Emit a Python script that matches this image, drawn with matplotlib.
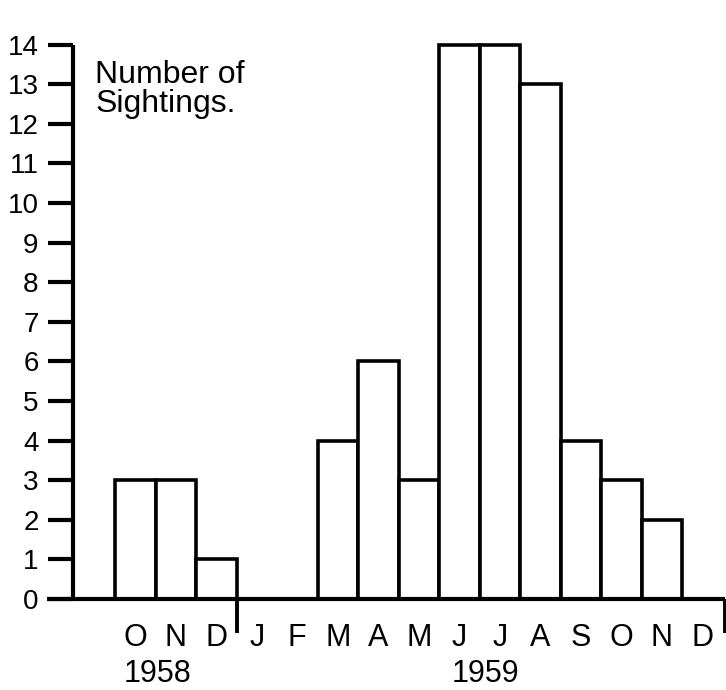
import matplotlib
matplotlib.use("Agg")
import matplotlib.pyplot as plt

plt.rcParams['font.family'] = ['Liberation Sans', 'DejaVu Sans']

months = ["O", "N", "D", "J", "F", "M", "A", "M", "J", "J", "A", "S", "O", "N", "D"]
sightings = [3, 3, 1, 0, 0, 4, 6, 3, 14, 14, 13, 4, 3, 2, 0]
y_ticks = list(range(0, 15))
years = ["1958", "1959"]

fig = plt.figure(figsize=(7.26, 6.9), dpi=100)
ax = fig.add_axes([0, 0, 1, 1])
ax.set_xlim(-115 / 40.5, (726 - 115) / 40.5)
ax.set_ylim(-91 / 39.6, 599 / 39.6)
ax.set_facecolor('none')

xs = list(range(len(months)))
ax.bar(xs, sightings, width=1.0, align='edge', facecolor='white',
       edgecolor='black', linewidth=2.6, zorder=2)

for s in ['top', 'right']:
    ax.spines[s].set_visible(False)
ax.spines['left'].set_position(('data', -1.03))
ax.spines['left'].set_bounds(0, 14)
ax.spines['bottom'].set_position(('data', 0))
ax.spines['bottom'].set_bounds(-1.68, 15.07)
for s in ['left', 'bottom']:
    ax.spines[s].set_linewidth(3.0)
    ax.spines[s].set_zorder(3)
    ax.spines[s].set_capstyle('butt')

ax.set_yticks(y_ticks)
ax.set_yticklabels([str(v) for v in y_ticks])
ax.tick_params(axis='y', direction='out', length=18, width=3.0, pad=7,
               labelsize=20)

ax.set_xticks([x + 0.5 for x in xs])
ax.set_xticklabels(months)
ax.tick_params(axis='x', length=0, pad=17, labelsize=22)

# year separators
ax.vlines([3, 15.05], -0.87, 0, color='black', linewidth=2.8, zorder=3)

ax.text(1.06, -1.90, years[0], ha='center', va='center', fontsize=22)
ax.text(9.14, -1.90, years[1], ha='center', va='center', fontsize=22)

ax.text(-0.49, 13.6, "Number of\nSightings.", ha='left', va='top',
        fontsize=23, linespacing=0.92)

fig.savefig("out.png", dpi=100, facecolor='white')
